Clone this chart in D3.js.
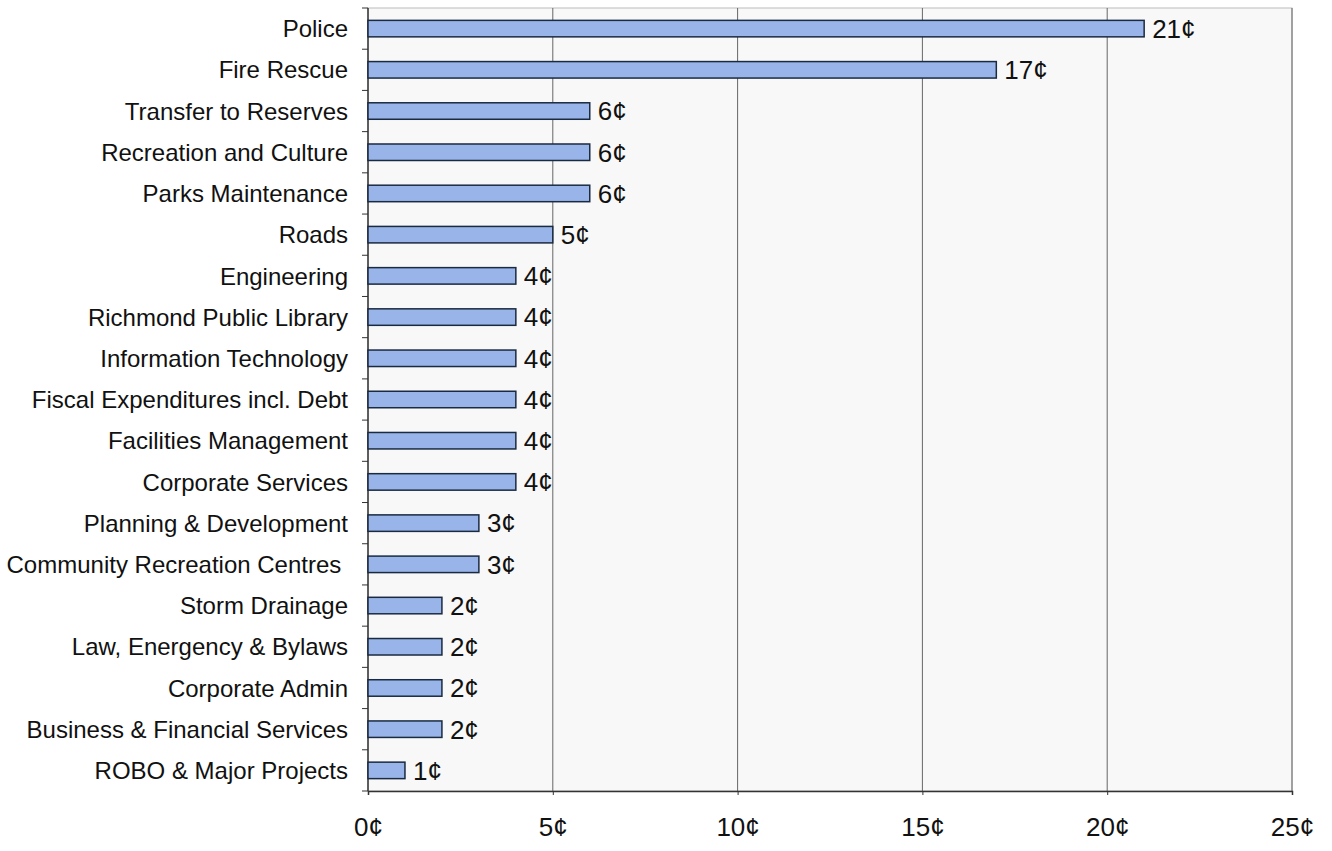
<!DOCTYPE html>
<html>
<head>
<meta charset="utf-8">
<script src="https://cdn.jsdelivr.net/npm/d3@7"></script>
<style>
  body { margin: 0; background: #fff; }
  text { font-family: "Liberation Sans", Arial, sans-serif; fill: #111; }
</style>
</head>
<body>
<div id="chart"></div>
<script>
// data
var categories = ["Police", "Fire Rescue", "Transfer to Reserves", "Recreation and Culture",
  "Parks Maintenance", "Roads", "Engineering", "Richmond Public Library",
  "Information Technology", "Fiscal Expenditures incl. Debt", "Facilities Management",
  "Corporate Services", "Planning & Development", "Community Recreation Centres ",
  "Storm Drainage", "Law, Energency & Bylaws", "Corporate Admin",
  "Business & Financial Services", "ROBO & Major Projects"];
var cents = [21, 17, 6, 6, 6, 5, 4, 4, 4, 4, 4, 4, 3, 3, 2, 2, 2, 2, 1];
var xTicks = [0, 5, 10, 15, 20, 25];

var totwidth = 1332,
	totheight = 851,
	paddingLeft = 368,
	paddingRight = 40,
	paddingTop = 8,
	paddingBottom = 60;

var svg = d3.select("#chart").append("svg")
	.attr("width", totwidth)
	.attr("height", totheight);

var x = d3.scaleLinear()
	.domain([0, 25])
	.range([paddingLeft, totwidth - paddingRight]);

var y = d3.scaleBand()
	.domain(categories)
	.range([paddingTop, totheight - paddingBottom])
	.paddingInner(0.6)
	.paddingOuter(0.3);

var plotBottom = totheight - paddingBottom;

// plot background
svg.append("rect")
	.attr("x", paddingLeft)
	.attr("y", paddingTop)
	.attr("width", x(25) - paddingLeft)
	.attr("height", plotBottom - paddingTop)
	.attr("fill", "#f8f8f8")
	.attr("stroke", "#bbb")
	.attr("stroke-width", 1);

// vertical gridlines
svg.append("g")
	.selectAll("line").data(xTicks.slice(1)).enter().append("line")
		.attr("x1", function(d) { return x(d); })
		.attr("x2", function(d) { return x(d); })
		.attr("y1", paddingTop)
		.attr("y2", plotBottom)
		.attr("stroke", "#666")
		.attr("stroke-width", 1);

// bottom axis
var xAxis = d3.axisBottom(x)
	.tickValues(xTicks)
	.tickSize(4)
	.tickFormat(function(d) { return d + "\u00a2"; });

var gx = svg.append("g")
	.attr("transform", "translate(0," + plotBottom + ")")
	.call(xAxis);
gx.select(".domain").attr("stroke", "#333").attr("stroke-width", 1.5);
gx.selectAll(".tick line").attr("stroke", "#333");
gx.selectAll(".tick text")
	.attr("y", 27)
	.attr("font-size", 26)
	.attr("font-family", "'Liberation Sans', Arial, sans-serif")
	.attr("fill", "#111");

// left axis: ticks at category boundaries
var step = y.step();
var bounds = d3.range(categories.length + 1).map(function(i) {
	return paddingTop + (plotBottom - paddingTop - step * categories.length) / 2 + i * step;
});
svg.append("g")
	.selectAll("line").data(bounds).enter().append("line")
		.attr("x1", paddingLeft - 6)
		.attr("x2", paddingLeft)
		.attr("y1", function(d) { return d; })
		.attr("y2", function(d) { return d; })
		.attr("stroke", "#333");
svg.append("line")
	.attr("x1", paddingLeft).attr("x2", paddingLeft)
	.attr("y1", paddingTop).attr("y2", plotBottom)
	.attr("stroke", "#333").attr("stroke-width", 1.5);

// category labels
svg.append("g")
	.selectAll("text").data(categories).enter().append("text")
		.attr("x", paddingLeft - 20)
		.attr("y", function(d) { return y(d) + y.bandwidth() / 2; })
		.attr("dy", "0.36em")
		.attr("text-anchor", "end")
		.attr("font-size", 24)
		.style("white-space", "pre")
		.text(function(d) { return d; });

// bars
var rows = categories.map(function(c, i) { return {cat: c, val: cents[i]}; });

svg.append("g")
	.selectAll("rect").data(rows).enter().append("rect")
		.attr("x", x(0))
		.attr("y", function(d) { return y(d.cat); })
		.attr("width", function(d) { return x(d.val) - x(0); })
		.attr("height", y.bandwidth())
		.attr("fill", "#98b4e8")
		.attr("stroke", "#1a2a40")
		.attr("stroke-width", 1.5);

// value labels
svg.append("g")
	.selectAll("text").data(rows).enter().append("text")
		.attr("x", function(d) { return x(d.val) + 8; })
		.attr("y", function(d) { return y(d.cat) + y.bandwidth() / 2; })
		.attr("dy", "0.36em")
		.attr("font-size", 26)
		.text(function(d) { return d.val + "\u00a2"; });
</script>
</body>
</html>
